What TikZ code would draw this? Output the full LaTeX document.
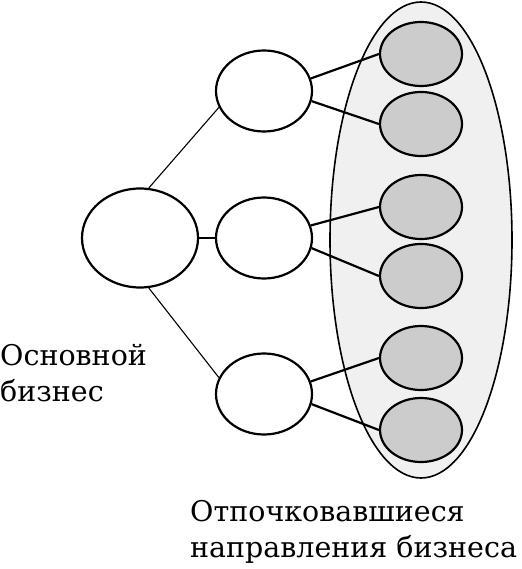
\documentclass[tikz,border=0pt]{standalone}
\usepackage{fontspec}
\setmainfont{DejaVu Serif}
\usetikzlibrary{shapes.geometric}

\begin{document}
\begin{tikzpicture}[x=1pt, y=-1pt, every node/.style={inner sep=0pt},
	unit/.style={ellipse, draw, line width=2.2pt, fill=white, minimum width=96pt, minimum height=81pt},
	offshoot/.style={ellipse, draw, line width=2.2pt, fill=gray!40, minimum width=82pt, minimum height=64pt},
	link/.style={line width=2.2pt}, thin link/.style={line width=1.1pt},
	caption/.style={anchor=base west, align=left, font=\fontsize{28.5}{36}\selectfont}]
	\useasboundingbox (0,0) rectangle (521,569);
	\node[ellipse, draw, line width=1.6pt, fill=gray!12, minimum width=182pt, minimum height=476pt] (zone) at (421,240) {};
	\node[unit, minimum width=116pt, minimum height=99pt] (core) at (140,238) {};
	\node[unit] (u1) at (264,91) {};
	\node[unit] (u2) at (264,238) {};
	\node[unit] (u3) at (264,394) {};
	\foreach \n/\y in {1/54, 2/124, 3/207, 4/276, 5/358, 6/430}
		\node[offshoot] (g\n) at (421,\y) {};
	\draw[thin link] (core.80) -- (u1.200);
	\draw[thin link] (core.east) -- (u2.west);
	\draw[thin link] (core.-80) -- (u3.160);
	\foreach \u/\a/\b in {1/1/2, 2/3/4, 3/5/6} {
		\draw[link] (u\u.15) -- (g\a.west);
		\draw[link] (u\u.-12) -- (g\b.west);
	}
	\node[caption] (corelabel) at (0,401) {Основной\\бизнес};
	\node[caption] (offlabel) at (190,557) {Отпочковавшиеся\\направления бизнеса};
\end{tikzpicture}
\end{document}
